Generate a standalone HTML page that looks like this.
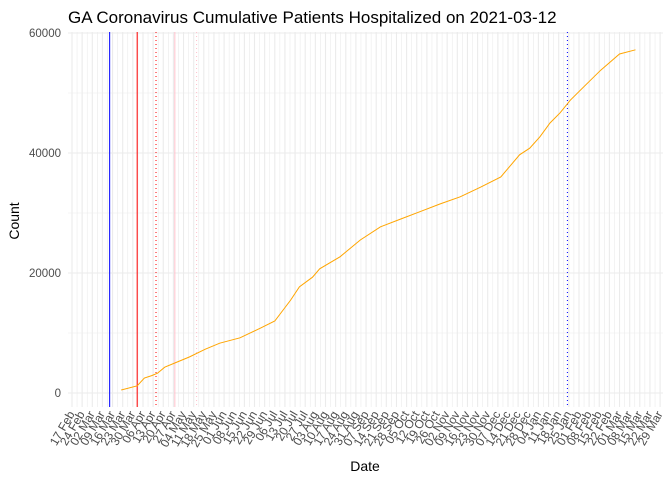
<!DOCTYPE html>
<html><head><meta charset="utf-8">
<style>
body{margin:0;background:#fff;}
svg{display:block;font-family:"Liberation Sans",sans-serif;}
</style></head>
<body>
<svg id="chart" width="672" height="480" viewBox="0 0 672 480">
<rect width="672" height="480" fill="#fff"/>
<g id="grid"></g>
<g id="vlines"></g>
<g id="series"></g>
<g id="yaxis"></g>
<g id="xaxis"></g>
<text x="68" y="23" font-size="17" fill="#000">GA Coronavirus Cumulative Patients Hospitalized on 2021-03-12</text>
<text transform="translate(19,221) rotate(-90)" text-anchor="middle" font-size="14" fill="#000">Count</text>
<text x="365" y="471" text-anchor="middle" font-size="14" fill="#000">Date</text>
</svg>
<script>
const dates=["2020-03-22","2020-04-02","2020-04-07","2020-04-12","2020-04-16","2020-04-21","2020-04-28","2020-05-08","2020-05-19","2020-05-29","2020-06-12","2020-06-26","2020-07-06","2020-07-17","2020-07-23","2020-08-01","2020-08-06","2020-08-20","2020-09-03","2020-09-17","2020-10-01","2020-10-14","2020-10-28","2020-11-11","2020-11-25","2020-12-09","2020-12-15","2020-12-22","2020-12-29","2021-01-05","2021-01-12","2021-01-19","2021-01-26","2021-02-05","2021-02-16","2021-03-01","2021-03-12"];
const counts=[500,1200,2500,2900,3300,4300,5000,6000,7300,8300,9200,10800,12000,15500,17700,19300,20700,22700,25500,27700,29000,30200,31500,32700,34300,36000,37700,39700,40800,42700,45000,46700,48800,51200,53800,56500,57200];
const yTicks=[0,20000,40000,60000];
const eventDates=["2020-03-14","2020-04-02","2020-04-15","2020-04-28","2020-05-13","2021-01-24"];
const eventColors=["#0000ff","#ff0000","#ff0000","#ffc0cb","#ffc0cb","#0000ff"];
const eventDash=["","","1,3","","1,3","1,3"];
const tickStart="2020-02-17", nTicks=59;
const MON=["Jan","Feb","Mar","Apr","May","Jun","Jul","Aug","Sep","Oct","Nov","Dec"];
const NS="http://www.w3.org/2000/svg";
const L=68,R=663,T=32,B=407;
const t0=Date.UTC(2020,1,17), DAY=86400000;
function dnum(s){const p=s.split("-");return (Date.UTC(+p[0],+p[1]-1,+p[2])-t0)/DAY;}
function x(d){return 72+d*1.4485;}
function y(v){return 393-v*0.006;}
function mk(tag,attrs,parent){const e=document.createElementNS(NS,tag);for(const k in attrs)e.setAttribute(k,attrs[k]);parent.appendChild(e);return e;}
const grid=document.getElementById("grid");
for(let i=-2;i<nTicks*2+2;i++){const xx=x(i*3.5);if(xx<L||xx>R)continue;
 const ln=mk("line",{x1:xx,x2:xx,y1:T,y2:B,stroke:"#ebebeb","stroke-width":i%2?0.6:1.1},grid);
 
 }
for(let v=-10000;v<=60000;v+=10000){const yy=y(v);if(yy>B)continue;
 const ln=mk("line",{x1:L,x2:R,y1:yy,y2:yy,stroke:"#ebebeb","stroke-width":v%20000?0.6:1.1},grid);
 
 }
const vl=document.getElementById("vlines");
eventDates.forEach((d,i)=>{const xx=x(dnum(d));
 const ln=mk("line",{x1:xx,x2:xx,y1:T,y2:B,stroke:eventColors[i],"stroke-width":1},vl);
 if(eventDash[i])ln.setAttribute("stroke-dasharray",eventDash[i]);
 
 });
const pts=dates.map((d,i)=>x(dnum(d)).toFixed(1)+","+y(counts[i]).toFixed(1)).join(" ");
const pl=mk("polyline",{points:pts,fill:"none",stroke:"#ffa500","stroke-width":1},document.getElementById("series"));


const ya=document.getElementById("yaxis");
yTicks.forEach(v=>{const t=mk("text",{x:61,y:y(v)+4,"text-anchor":"end","font-size":11.5,fill:"#4d4d4d"},ya);t.textContent=v;
 
 });
const xa=document.getElementById("xaxis");
for(let i=0;i<nTicks;i++){const d=new Date(t0+i*7*DAY);const xx=x(i*7);
 const lab=String(d.getUTCDate()).padStart(2,"0")+" "+MON[d.getUTCMonth()];
 const t=mk("text",{transform:`translate(${xx+3},${414}) rotate(-60)`,"text-anchor":"end","font-size":12,fill:"#4d4d4d"},xa);t.textContent=lab;
 
 }
</script>
</body></html>
